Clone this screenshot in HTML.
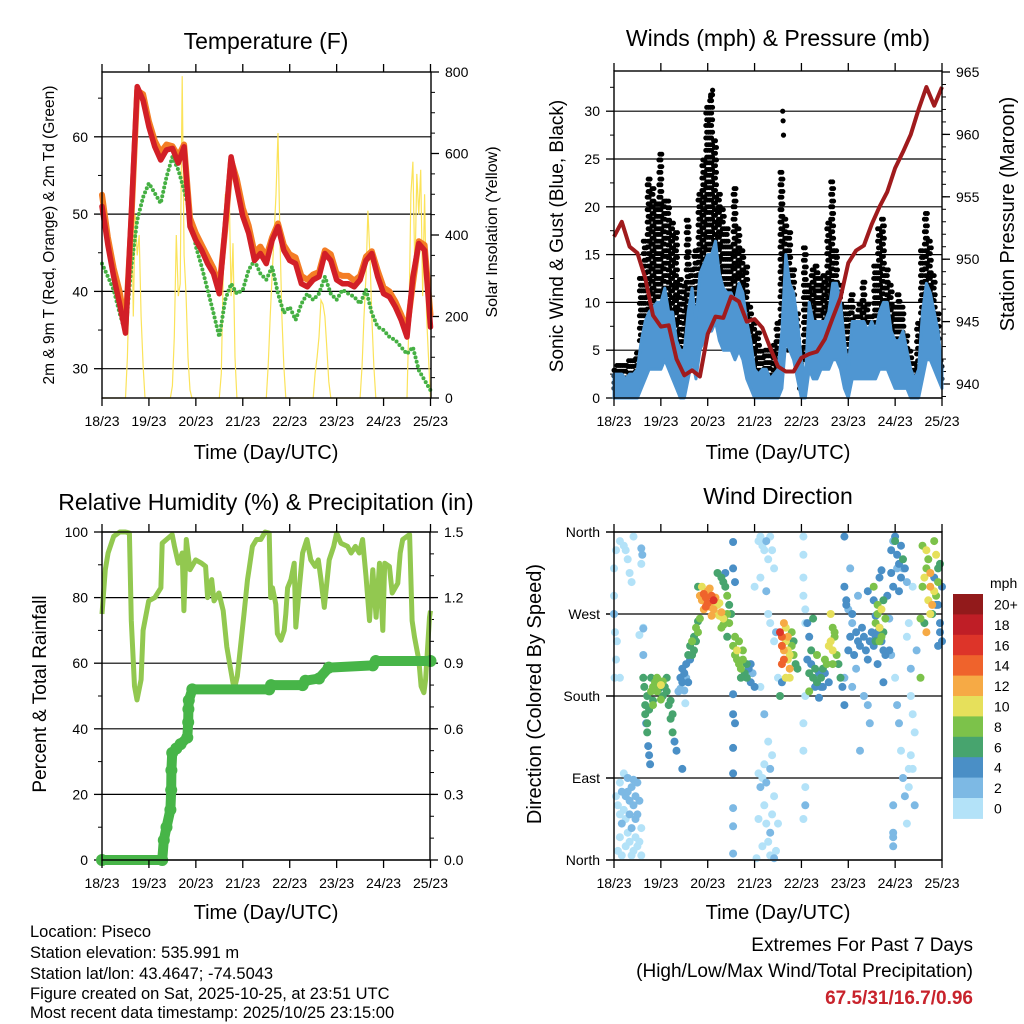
<!DOCTYPE html>
<html><head><meta charset="utf-8"><title>Piseco station meteogram</title>
<style>
html,body{margin:0;padding:0;background:#fff;}
svg{display:block;font-family:"Liberation Sans",Arial,sans-serif;}
</style></head>
<body>
<svg id="chart" xmlns="http://www.w3.org/2000/svg" width="1024" height="1024" viewBox="0 0 1024 1024">
<rect x="0" y="0" width="1024" height="1024" fill="#fff"/>
<text x="266" y="49" font-size="23" text-anchor="middle">Temperature (F)</text>
<text x="778" y="46" font-size="23" text-anchor="middle">Winds (mph) &amp; Pressure (mb)</text>
<text x="266" y="510" font-size="23" text-anchor="middle">Relative Humidity (%) &amp; Precipitation (in)</text>
<text x="778" y="504" font-size="23" text-anchor="middle">Wind Direction</text>
<text x="266" y="459" font-size="20" text-anchor="middle">Time (Day/UTC)</text>
<text x="778" y="459" font-size="20" text-anchor="middle">Time (Day/UTC)</text>
<text x="266" y="919" font-size="20" text-anchor="middle">Time (Day/UTC)</text>
<text x="778" y="919" font-size="20" text-anchor="middle">Time (Day/UTC)</text>
<text transform="translate(54,235) rotate(-90)" font-size="15.5" text-anchor="middle">2m &amp; 9m T (Red, Orange) &amp; 2m Td (Green)</text>
<text transform="translate(497,232) rotate(-90)" font-size="16" text-anchor="middle">Solar Insolation (Yellow)</text>
<text transform="translate(563,236) rotate(-90)" font-size="19" text-anchor="middle">Sonic Wind &amp; Gust (Blue, Black)</text>
<text transform="translate(1014,214) rotate(-90)" font-size="20" text-anchor="middle">Station Pressure (Maroon)</text>
<text transform="translate(46,694) rotate(-90)" font-size="19" text-anchor="middle">Percent &amp; Total Rainfall</text>
<text transform="translate(541,694) rotate(-90)" font-size="20" text-anchor="middle">Direction (Colored By Speed)</text>
<g font-size="16.5">
<text x="30" y="937">Location: Piseco</text>
<text x="30" y="958">Station elevation: 535.991 m</text>
<text x="30" y="979">Station lat/lon: 43.4647; -74.5043</text>
<text x="30" y="999">Figure created on Sat, 2025-10-25, at 23:51 UTC</text>
<text x="30" y="1018">Most recent data timestamp: 2025/10/25 23:15:00</text>
</g>
<text x="973" y="951" font-size="19" text-anchor="end">Extremes For Past 7 Days</text>
<text x="973" y="977" font-size="19" text-anchor="end">(High/Low/Max Wind/Total Precipitation)</text>
<text x="973" y="1004" font-size="19" font-weight="bold" fill="#c8232c" text-anchor="end">67.5/31/16.7/0.96</text>
</svg>
<script>
// ===== DATA =====
const dayLabels = ["18/23","19/23","20/23","21/23","22/23","23/23","24/23","25/23"];
const tempRed = [51,46,41.9,38.4,34.6,50,66.5,64.7,61.3,58.7,57,58.3,58.5,56.6,58.7,48.4,46.6,45.3,43.6,42.3,39.7,48.4,57.4,53.5,49.7,47.5,44,44.9,43.6,46.6,48.4,45.3,44,43.6,41,40.6,41.5,41.9,44.9,44,41.5,41,41,40.6,41.5,44,44.9,41.9,39.7,39.3,38,36.3,34.1,41.9,46.2,45.3,35.4];
const tempOrange = [52.5,47,43,40,35.5,49,66,65.5,62,59.5,58,59,58.8,57.5,59,49.5,47.5,46,44.5,43,40.5,48,57,54.5,50.8,48.5,45,45.8,44.5,47,48.8,46,44.8,44.4,42,41.5,42.2,42.5,45.3,44.8,42.3,42,42,41.4,42,44.5,45.2,42.7,40.5,40,38.7,37,35,41,46.5,46,37];
const dewGreen = [43.6,41.9,40.2,37.2,34.6,43.2,49.2,52.2,54,52.7,51.4,54.8,57.4,55.7,53.1,50.1,45.8,43.2,40.2,37.2,34.1,38.9,41,39.7,40.2,42.8,44,42.3,41.5,43.2,39.7,37.2,38,36.3,38.4,39.7,38.9,39.7,41.9,39.7,38.9,40.2,39.7,39.3,38.4,40.2,37.2,35.4,35,34.1,33.7,32.8,31.9,32.8,29.8,28.5,27.2];
const solar = [0,0,0,0,0,0,0,0,0,0,0,0,0,100,300,560,200,450,350,400,200,80,0,0,0,0,0,0,0,0,0,0,0,0,0,0,30,150,400,250,280,790,350,250,100,20,0,0,0,0,0,0,0,0,0,0,0,0,0,0,0,60,300,500,420,520,250,380,100,0,0,0,0,0,0,0,0,0,0,0,0,0,0,0,0,80,200,300,400,500,650,400,200,80,0,0,0,0,0,0,0,0,0,0,0,0,0,0,0,60,100,150,240,230,200,120,40,0,0,0,0,0,0,0,0,0,0,0,0,0,0,0,0,80,200,300,460,350,200,80,0,0,0,0,0,0,0,0,0,0,0,0,0,0,0,0,0,200,500,580,300,550,450,560,250,500,200,100,0];
const gustHi = [3.5,3.5,4,3.5,4.5,4.5,5,13,17,23,22,21,26,21,21,19,18,13,12,19,14,16,22,25,31,32,27,22,20,18,16,22,18,16,14,10,8,7,5,5,5,6,8,24,19,18,14,9,5,16,12,14,14,13,13,19,22.7,16,12,10,10,11,9,10,12.6,10,9,14,18,19,14,12,10,11,10,7,5,4,8,16,20,17,13,9,4];
const gustLo = [1,1.5,1.5,1.5,2,2,1.5,6,6,8,7,8,8,7,5,6,5,4,2,3,5,7,9,10,9,9,10,9,8,8,8,7,6,5,4,3,2,1,1,0.5,0.5,1,2,8,7,5,5,3,1,4,4,5,6,6,5,6,7,5,4,3,3,5,4,4,5,4,4,6,6,7,5,4,3,3,3,2,1,1,2,5,7,6,5,3,2];
const gustOutlierHours = [48.5,49.5,50.5,86.4,86.6,86.8];
const gustOutlierVals = [29,31.5,32.2,30,29,27.5];
const windHi = [2.5,2.5,2.5,2,2.5,2.5,3,6,8,9,9.5,10,10,11.5,9,9,6,5,5,9,11.5,8,13,14,15,15,16.4,13,11.5,11,11,10,12,11,8,6,3,2.5,3,3,2,2.5,3,7,15,12,11,8,4,2,10,8,8,8,8,9,12,12,10,6,3,8,8,8,8,7,8,7,9,10,10,7,6,6,7,5,3,2,3,9,12,11,9,7,3];
const windLo = [0,0,0,0,0,0,0,1,2,3,3,3,3,4,3,2,1,0,0,2,4,2,5,6,7,7,8,6,5,5,5,4,5,4,2,1,0,0,0,0,0,0,0,1,6,5,4,2,0,0,3,2,2,3,3,3,4,4,3,1,0,2,2,2,2,2,2,2,3,3,3,2,1,1,1,1,0,0,0,2,4,4,3,2,1];
const pressure = [951.8,953,951,950.5,948.5,945.5,944.6,944.7,942,940.7,941.1,940.6,944,945.4,945.3,947,946.6,945,945.2,944.5,942.9,941.4,941,941,942.1,942.4,942.6,943.6,945.3,946.9,949.7,950.7,951.1,952.8,954.2,955.4,957.3,958.6,960,962,963.8,962.3,963.8];
const rhHours = [0,1.7,3.1,6,9.1,12,14,15,16.6,17.9,20,21,23.9,27,30.1,30.8,33,35.9,37.1,39,41,41.9,43.1,45,47.9,50.9,53,54,56.1,57.3,59.8,62,63.8,65.8,67,68,69.2,70.1,72.6,74.4,75.2,76.9,79,81.2,83.4,85.5,86.3,87.2,88.9,89.7,91.5,93.2,94,94.9,96.6,98.3,99.1,100.9,102.6,104.8,106.8,109,110.6,112,113.7,116.2,118.5,120,122.2,125.6,127.4,129.6,131.6,133.3,135,136.8,138.5,140.2,141.9,143.6,144.6,147,148.4,151.3,152.5,153.8,157.3,158.6,159.8,162,163.2,164.6,165.5,167.5,168];
const rhValues = [75,88.5,93.6,98.7,100,100,99.7,73,53,48.8,55,70,79,80,83,96.6,97.7,99.2,95.6,90.5,93.6,76,97.7,88.5,91.5,90.5,89.5,80,85.5,79,81.4,76,65,58,54,53,56,61,75,85.5,88.5,95.6,97.7,97.7,100,99.7,80,83,78,69,67,70,75,83,85.5,90.5,71,83,93.6,97.7,91.5,89.5,91.5,85.5,77,91.5,95.6,99.7,96.6,95.6,93.6,95.6,93.6,97.7,86.5,73,88.5,74,90.5,70,90.5,89.5,81.4,84.4,93.6,97.7,99.2,73,68,61,53,51,55,74,76];
const precipHours = [0,30.8,31.6,33,35,35.4,35.5,35.9,38,40.2,43.6,44.1,44.2,44.4,46.2,85.5,86.5,102.6,104,111,116,138.5,140,168];
const precipValues = [0,0,0.09,0.15,0.23,0.32,0.41,0.49,0.51,0.53,0.56,0.63,0.69,0.73,0.78,0.78,0.80,0.80,0.82,0.83,0.88,0.89,0.91,0.91];
const wdHour = [2,3,4,5,6,7,8,9,10,11,12,13,14,2,3,4,6,7,8,9,10,11,12,13,5,4,1,8,10,14,6,9,12,3,7,11,
0,0,0.5,1,0.3,0,1,3,1.5,3,5,6,8,9,7,10,14,13,15,14,14.5,15,15,
15,15.5,16,16.5,17,17.5,18,18.5,16,17,19,20,21,22,23,24,25,26,27,28,29,30,31,32,29,30,27,20,19,22,18,17,20,25,24,23,35,
34,35,36,37,38,39,40,41,42,43,37,38,36,40,39,35,41,42,43,33,34,36.5,
44,45,46,47,48,49,50,51,52,53,54,55,56,57,58,46,48,50,52,54,45,49,51,47,53,56,44,43,55,
53,55,56,57,58,59,60,61,57,58,59,62,
61,62,63,64,65,66,67,68,69,70,71,72,64,66,63,68,62,70,65,61,61,62,61,61,61,61,61,61,
72,74,75,76,77,78,79,80,81,82,75,78,79,80,82,83,84,75,77,79,81,74,75,76,77,78,79,80,81,82,74,76,78,80,83,84,73,82,80,77,
85,86,86,87,87,86,88,88,89,89,90,90,91,91,92,93,94,85,86,88,87,89,90,92,
97,97,97,97,98,98,98,97,97,98,97,98,
99,100,101,102,103,104,105,106,107,108,109,110,111,112,113,114,115,116,117,101,104,106,108,110,112,113,100,103,100,102,111,112,99,107,105,
118,118,119,119,120,121,122,122,123,124,125,126,127,128,129,130,131,132,133,134,135,136,137,138,139,135,133,130,125,120,124,122,128,130,131,126,118,118,121,138,134,136,137,
133,134,135,136,137,138,139,135,136,137,138,134,
141,142,143,144,145,146,147,148,145,147,143,146,144,142,149,150,140,141,142,
144,145,146,147,148,149,150,143,143,143,143,151,152,153,154,152,153,151,154,152,155,150,151,153,148,
157,158,159,160,161,162,163,162,164,165,166,167,160,161,163,164,165,166,158,159,160,162,157,
165,166,167,168,167,166,164,168];
const wdDir = [10,25,40,55,70,30,50,80,60,45,85,20,5,60,85,75,15,90,20,35,10,70,50,65,95,5,70,65,88,35,45,5,15,50,75,25,
320,290,250,220,200,270,340,200,240,350,345,340,315,305,330,355,325,247,255,342,335,254,225,
200,190,170,150,140,125,115,105,160,180,185,190,195,185,188,192,196,190,185,170,155,140,130,120,175,160,200,175,200,200,165,150,170,180,176,195,100,
200,210,205,215,225,235,240,245,255,262,200,195,186,225,220,195,230,240,250,185,188,172,
290,285,292,288,282,278,290,275,280,270,268,272,265,262,270,275,295,268,288,282,300,298,285,278,280,258,265,300,255,
315,310,305,300,290,280,270,320,315,245,260,305,
235,225,230,215,210,220,205,200,210,195,205,190,240,230,220,215,245,215,200,182,160,150,123,95,57,37,7,349,
300,350,355,345,340,350,330,355,340,320,310,295,270,260,240,250,200,190,160,130,115,95,80,90,60,40,20,5,50,70,45,15,85,30,10,40,2,2,100,105,
250,245,235,230,220,215,255,240,230,220,210,200,250,235,225,215,210,180,195,200,260,245,225,240,
355,335,310,290,275,260,180,150,120,80,45,60,
220,205,215,200,210,195,205,200,210,220,215,235,240,230,245,225,215,200,190,230,225,190,205,195,215,250,245,190,185,265,270,255,260,190,178,170,
300,285,280,230,245,260,270,225,250,240,235,255,245,230,220,240,250,235,245,250,255,240,230,225,215,285,295,290,275,210,190,180,170,150,120,200,355,320,195,268,310,318,300,
260,270,255,245,250,265,280,240,275,285,240,230,
340,350,355,335,325,345,330,320,310,300,295,350,315,320,305,290,265,225,200,
170,150,120,90,70,40,25,60,30,15,100,180,160,140,115,100,80,60,210,230,245,260,300,320,200,
300,310,320,330,315,280,270,295,290,305,325,340,285,270,350,335,320,345,260,250,300,265,280,
280,260,300,250,235,310,240,320];
const wdSpd = [1,1,2,1,2,1,3,2,3,2,2,1,1,1,1,2,1,3,1,2,1,3,3,2,1,1,1,3,3,1,1,1,1,1,2,1,
1,1,1,1,1,2,1,1,1,1,1,1,1,1,1,1,1,1,1,3,3,3,3,
6,6,6,5,6,5,5,4,7,6,8,9,8,9,7,10,8,7,6,6,6,6,4,4,6,7,6,7,6,8,6,6,8,7,8,9,4,
4,5,4,5,6,7,8,7,8,7,3,4,3,6,5,4,6,6,8,3,3,1,
12,13,14,15,14,13,15,12,11,10,11,12,10,9,9,12,13,12,13,10,11,12,16,14,11,9,9,7,8,
7,7,6,7,8,6,7,5,5,6,8,5,
9,8,10,8,9,8,7,6,5,4,3,4,8,9,9,6,8,4,7,5,5,4,4,4,2,2,3,4,
1,1,1,1,1,2,1,1,1,1,1,2,1,1,1,2,1,1,2,1,1,1,2,1,1,1,1,1,1,1,1,1,3,2,1,1,1,3,3,1,
16,14,14,13,14,15,11,11,10,11,12,10,8,8,8,6,6,6,5,10,12,12,11,7,
1,1,1,1,1,1,1,1,1,1,1,3,
5,6,5,6,7,6,5,6,7,8,9,10,11,10,9,8,7,6,5,7,8,5,5,5,8,9,5,4,8,7,11,9,4,4,5,
4,4,4,4,4,4,3,4,5,5,4,4,5,4,4,4,5,4,4,5,5,4,5,4,4,5,4,4,3,3,2,3,2,2,2,2,2,4,3,4,4,4,4,
8,8,9,10,8,7,9,8,9,10,7,7,
4,4,3,5,4,5,4,6,3,4,4,4,6,4,4,3,4,3,3,
1,2,2,1,2,2,1,3,3,3,3,1,1,1,1,1,1,1,2,3,2,1,1,1,2,
8,9,10,8,9,13,12,11,10,9,8,7,11,10,7,8,10,6,8,7,12,12,9,
4,4,4,4,4,5,4,4];
const speedLabels = ["0","2","4","6","8","10","12","14","16","18","20+"];
const speedColors = ["#b3e2f8","#7db9e4","#4a8fc6","#47a46e","#7cc24a","#e6e05b","#f6aa45","#ef632c","#dd3429","#bf1e26","#921a1b"];

// ===== HELPERS =====
const NS = 'http://www.w3.org/2000/svg';
const svg = document.getElementById('chart');
function mk(tag, parent, attrs) {
  const e = document.createElementNS(NS, tag);
  for (const k in attrs) e.setAttribute(k, attrs[k]);
  parent.appendChild(e);
  return e;
}
function grp(parent) { return mk('g', parent, {}); }

const X1 = h => 102 + h * (328.5 / 168);
const X2 = h => 614 + h * (328 / 168);
const Yt = t => 368.7 - (t - 30) * 7.73;
const Ys = s => 398 - s * (326 / 800);
const Yw = w => 398 - w * 9.56;
const Yp = p => 384 - (p - 940) * 12.48;
const Yrh = r => 860 - r * 3.28;
const Ypr = p => 860 - p * (328 / 1.5);
const Yd = d => 860 - d * (328 / 360);

function timeAxis(parent, X, yTop, yBot, name) {
  const g = grp(parent);
  
  
  for (let d = 0; d < dayLabels.length; d++) {
    const x = X(d * 24);
    const t1 = mk('line', g, {x1: x, x2: x, y1: yBot, y2: yBot + 8, stroke: '#000', 'stroke-width': 1.3});
    
    
    const t2 = mk('line', g, {x1: x, x2: x, y1: yTop, y2: yTop - 8, stroke: '#000', 'stroke-width': 1.3});
    
    
    const lb = mk('text', g, {x: x, y: yBot + 28, 'font-size': 14, 'text-anchor': 'middle'});
    lb.textContent = dayLabels[d];
    
    
  }
}
function yAxis(parent, x, side, majors, minors, yf, labelFn, gridX1, gridX2, name) {
  const g = grp(parent);
  
  
  const dir = side === 'left' ? -1 : 1;
  minors.forEach(v => {
    const y = yf(v);
    const t = mk('line', g, {x1: x, x2: x + dir * 4, y1: y, y2: y, stroke: '#000', 'stroke-width': 1});
    
    
  });
  majors.forEach(v => {
    const y = yf(v);
    if (gridX1 !== null) {
      const gl = mk('line', g, {x1: gridX1, x2: gridX2, y1: y, y2: y, stroke: '#000', 'stroke-width': 1.2});
      
      
    }
    const t = mk('line', g, {x1: x, x2: x + dir * 8, y1: y, y2: y, stroke: '#000', 'stroke-width': 1.3});
    
    
    const lb = mk('text', g, {x: x + dir * 14, y: y + 5, 'font-size': 14, 'text-anchor': side === 'left' ? 'end' : 'start'});
    lb.textContent = labelFn(v);
    
    
  });
}
function frame(parent, x1, y1, x2, y2, name) {
  const r = mk('rect', parent, {x: x1, y: y1, width: x2 - x1, height: y2 - y1, fill: 'none', stroke: '#000', 'stroke-width': 1.4});
  
  
}
function range(a, b, s) { const r = []; for (let v = a; v <= b + 1e-9; v += s) r.push(+v.toFixed(4)); return r; }

// ===== PANEL 1 =====
const p1 = grp(svg);


yAxis(p1, 102, 'left', [30,40,50,60], [35,45,55,65], Yt, v => v, 102, 431, 'temperature-y-axis');
yAxis(p1, 431, 'right', [0,200,400,600,800], range(0,800,50), Ys, v => v, null, null, 'solar-y-axis');
const solarPts = solar.map((v, i) => X1(i).toFixed(1) + ',' + Ys(v).toFixed(1)).join(' ');
const solarLine = mk('polyline', p1, {points: solarPts, fill: 'none', stroke: '#fbe35a', 'stroke-width': 1.2});


const dewPts = dewGreen.map((v, i) => X1(i * 3).toFixed(1) + ',' + Yt(v).toFixed(1)).join(' ');
const dewLine = mk('polyline', p1, {points: dewPts, fill: 'none', stroke: '#45b043', 'stroke-width': 4, 'stroke-dasharray': '0 4.5', 'stroke-linecap': 'round', 'stroke-linejoin': 'round'});


const orPts = tempOrange.map((v, i) => X1(i * 3).toFixed(1) + ',' + Yt(v).toFixed(1)).join(' ');
const orLine = mk('polyline', p1, {points: orPts, fill: 'none', stroke: '#f47d25', 'stroke-width': 6, 'stroke-linejoin': 'round', 'stroke-linecap': 'round'});


const redPts = tempRed.map((v, i) => X1(i * 3).toFixed(1) + ',' + Yt(v).toFixed(1)).join(' ');
const redLine = mk('polyline', p1, {points: redPts, fill: 'none', stroke: '#d21f27', 'stroke-width': 5.5, 'stroke-linejoin': 'round', 'stroke-linecap': 'round'});


frame(p1, 102, 72, 431, 398, 'temperature-plot-frame');
timeAxis(p1, X1, 72, 398, 'temperature-x-axis');

// ===== PANEL 2 =====
const p2 = grp(svg);


yAxis(p2, 614, 'left', [0,5,10,15,20,25,30], range(2.5,32.5,5), Yw, v => v, 614, 942, 'wind-y-axis');
yAxis(p2, 942, 'right', [940,945,950,955,960,965], range(939,965,1), Yp, v => v, null, null, 'pressure-y-axis');
const gustG = grp(p2);


gustHi.forEach((hi, i) => {
  const lo = gustLo[i];
  for (let k = 0; k < 4; k++) {
    const h = Math.max(0, i * 2 - 1 + k * 0.5);
    if (h > 168) continue;
    for (let w = lo + (k % 2) * 0.6; w <= hi; w += 1.3) {
      const c = mk('circle', gustG, {cx: X2(h).toFixed(1), cy: Yw(w).toFixed(1), r: 2.5, fill: '#000'});
      
      
    }
  }
});
gustOutlierHours.forEach((h, i) => {
  const c = mk('circle', gustG, {cx: X2(h).toFixed(1), cy: Yw(gustOutlierVals[i]).toFixed(1), r: 2.6, fill: '#000'});
  
  
});
let bandPts = windHi.map((v, i) => X2(i * 2).toFixed(1) + ',' + Yw(v).toFixed(1));
for (let i = windLo.length - 1; i >= 0; i--) bandPts.push(X2(i * 2).toFixed(1) + ',' + Yw(windLo[i]).toFixed(1));
const band = mk('polygon', p2, {points: bandPts.join(' '), fill: '#4f96d2', stroke: '#4f96d2', 'stroke-width': 3, 'stroke-linejoin': 'round'});


const pPts = pressure.map((v, i) => X2(i * 4).toFixed(1) + ',' + Yp(v).toFixed(1)).join(' ');
const pLine = mk('polyline', p2, {points: pPts, fill: 'none', stroke: '#a01b1d', 'stroke-width': 4, 'stroke-linejoin': 'round'});


frame(p2, 614, 71, 942, 398, 'winds-plot-frame');
timeAxis(p2, X2, 71, 398, 'winds-x-axis');

// ===== PANEL 3 =====
const p3 = grp(svg);


yAxis(p3, 102, 'left', [0,20,40,60,80,100], range(10,90,20), Yrh, v => v, 102, 430, 'humidity-y-axis');
yAxis(p3, 430, 'right', [0,0.3,0.6,0.9,1.2,1.5], range(0,1.5,0.1), Ypr, v => v.toFixed(1), null, null, 'precip-y-axis');
const rhPts = rhHours.map((h, i) => X1(h).toFixed(1) + ',' + Yrh(rhValues[i]).toFixed(1)).join(' ');
const rhLine = mk('polyline', p3, {points: rhPts, fill: 'none', stroke: '#92c850', 'stroke-width': 5, 'stroke-linejoin': 'round'});


const prPts = precipHours.map((h, i) => X1(h).toFixed(1) + ',' + Ypr(precipValues[i]).toFixed(1)).join(' ');
const prLine = mk('polyline', p3, {points: prPts, fill: 'none', stroke: '#47b548', 'stroke-width': 10, 'stroke-linejoin': 'round', 'stroke-linecap': 'round'});


precipHours.forEach((h, i) => {
  const c = mk('circle', p3, {cx: X1(h).toFixed(1), cy: Ypr(precipValues[i]).toFixed(1), r: 6, fill: '#47b548'});
  
  
});
frame(p3, 102, 532, 430, 860, 'humidity-plot-frame');
timeAxis(p3, X1, 532, 860, 'humidity-x-axis');

// ===== PANEL 4 =====
const p4 = grp(svg);


const dirNames = {0: 'North', 90: 'East', 180: 'South', 270: 'West', 360: 'North'};
yAxis(p4, 614, 'left', [0,90,180,270,360], [], Yd, v => dirNames[v], 606, 942, 'direction-y-axis');
const dotG = grp(p4);


const order = wdHour.map((_, i) => i).sort((a, b) => wdSpd[a] - wdSpd[b]);
order.forEach(i => {
  const ci = Math.min(10, Math.floor(wdSpd[i] / 2));
  const c = mk('circle', dotG, {cx: X2(wdHour[i]).toFixed(1), cy: Yd(wdDir[i]).toFixed(1), r: 4, fill: speedColors[ci]});
  
  
});
frame(p4, 614, 532, 942, 860, 'direction-plot-frame');
timeAxis(p4, X2, 532, 860, 'direction-x-axis');

const lg = grp(svg);


const lt = mk('text', lg, {x: 990, y: 588, 'font-size': 14});
lt.textContent = 'mph';


for (let k = 0; k < speedColors.length; k++) {
  const idx = speedColors.length - 1 - k;
  const y = 594 + k * 20.4;
  const r = mk('rect', lg, {x: 953, y: y.toFixed(1), width: 30, height: 20.9, fill: speedColors[idx]});
  
  
  const t = mk('text', lg, {x: 994, y: (y + 15.5).toFixed(1), 'font-size': 14});
  t.textContent = speedLabels[idx];
  
  
}
</script>
</body></html>
